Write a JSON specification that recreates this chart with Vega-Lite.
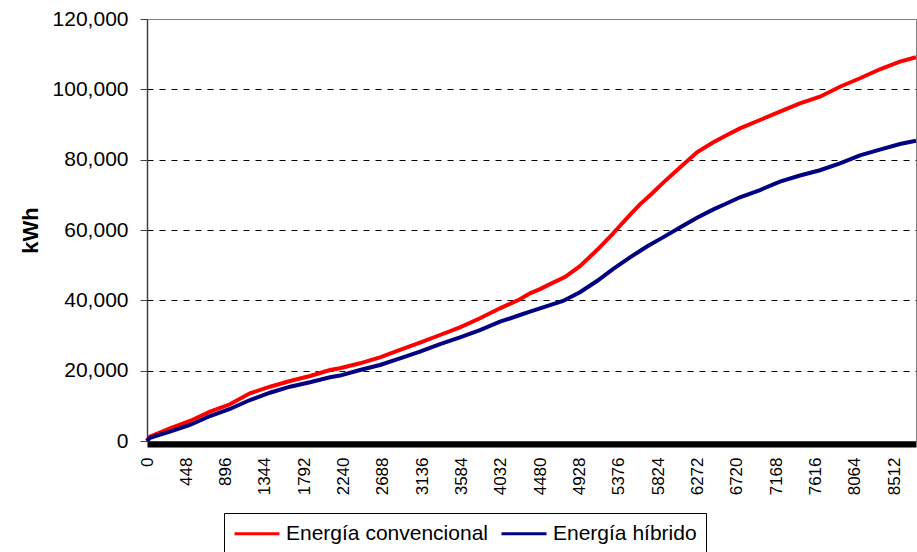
{
  "$schema": "https://vega.github.io/schema/vega-lite/v6.json",
  "width": 769,
  "height": 422,
  "autosize": {"type": "none"},
  "padding": {"left": 147, "top": 19, "right": 1, "bottom": 111},
  "background": "white",
  "config": {
    "font": "Liberation Sans",
    "view": {"stroke": "#808080", "strokeWidth": 1}
  },
  "data": {
    "values": [
      {"h": 0, "s": "Energía convencional", "v": 0},
      {"h": 34, "s": "Energía convencional", "v": 1220},
      {"h": 262, "s": "Energía convencional", "v": 3610},
      {"h": 490, "s": "Energía convencional", "v": 5690},
      {"h": 718, "s": "Energía convencional", "v": 8330},
      {"h": 945, "s": "Energía convencional", "v": 10440},
      {"h": 1173, "s": "Energía convencional", "v": 13560},
      {"h": 1401, "s": "Energía convencional", "v": 15440},
      {"h": 1629, "s": "Energía convencional", "v": 17060},
      {"h": 1857, "s": "Energía convencional", "v": 18480},
      {"h": 2085, "s": "Energía convencional", "v": 20190},
      {"h": 2198, "s": "Energía convencional", "v": 20700},
      {"h": 2426, "s": "Energía convencional", "v": 22090},
      {"h": 2654, "s": "Energía convencional", "v": 23800},
      {"h": 2882, "s": "Energía convencional", "v": 25880},
      {"h": 3110, "s": "Energía convencional", "v": 27950},
      {"h": 3338, "s": "Energía convencional", "v": 30140},
      {"h": 3565, "s": "Energía convencional", "v": 32330},
      {"h": 3793, "s": "Energía convencional", "v": 34890},
      {"h": 4021, "s": "Energía convencional", "v": 37730},
      {"h": 4249, "s": "Energía convencional", "v": 40290},
      {"h": 4363, "s": "Energía convencional", "v": 42000},
      {"h": 4477, "s": "Energía convencional", "v": 43200},
      {"h": 4591, "s": "Energía convencional", "v": 44600},
      {"h": 4760, "s": "Energía convencional", "v": 46600},
      {"h": 4932, "s": "Energía convencional", "v": 49700},
      {"h": 5126, "s": "Energía convencional", "v": 54300},
      {"h": 5308, "s": "Energía convencional", "v": 59000},
      {"h": 5388, "s": "Energía convencional", "v": 61200},
      {"h": 5502, "s": "Energía convencional", "v": 64300},
      {"h": 5616, "s": "Energía convencional", "v": 67300},
      {"h": 5750, "s": "Energía convencional", "v": 70300},
      {"h": 5878, "s": "Energía convencional", "v": 73400},
      {"h": 6071, "s": "Energía convencional", "v": 77800},
      {"h": 6265, "s": "Energía convencional", "v": 82100},
      {"h": 6447, "s": "Energía convencional", "v": 84900},
      {"h": 6607, "s": "Energía convencional", "v": 87000},
      {"h": 6755, "s": "Energía convencional", "v": 88900},
      {"h": 6983, "s": "Energía convencional", "v": 91280},
      {"h": 7210, "s": "Energía convencional", "v": 93640},
      {"h": 7438, "s": "Energía convencional", "v": 96030},
      {"h": 7666, "s": "Energía convencional", "v": 97910},
      {"h": 7894, "s": "Energía convencional", "v": 100750},
      {"h": 8122, "s": "Energía convencional", "v": 103140},
      {"h": 8349, "s": "Energía convencional", "v": 105700},
      {"h": 8577, "s": "Energía convencional", "v": 107860},
      {"h": 8760, "s": "Energía convencional", "v": 109110},
      {"h": 0, "s": "Energía híbrido", "v": 0},
      {"h": 34, "s": "Energía híbrido", "v": 900},
      {"h": 262, "s": "Energía híbrido", "v": 2640},
      {"h": 490, "s": "Energía híbrido", "v": 4550},
      {"h": 718, "s": "Energía híbrido", "v": 7110},
      {"h": 945, "s": "Energía híbrido", "v": 9100},
      {"h": 1173, "s": "Energía híbrido", "v": 11660},
      {"h": 1401, "s": "Energía híbrido", "v": 13730},
      {"h": 1629, "s": "Energía híbrido", "v": 15440},
      {"h": 1857, "s": "Energía híbrido", "v": 16690},
      {"h": 2085, "s": "Energía híbrido", "v": 18110},
      {"h": 2198, "s": "Energía híbrido", "v": 18600},
      {"h": 2426, "s": "Energía híbrido", "v": 20190},
      {"h": 2654, "s": "Energía híbrido", "v": 21610},
      {"h": 2882, "s": "Energía híbrido", "v": 23520},
      {"h": 3110, "s": "Energía híbrido", "v": 25390},
      {"h": 3338, "s": "Energía híbrido", "v": 27580},
      {"h": 3565, "s": "Energía híbrido", "v": 29490},
      {"h": 3793, "s": "Energía híbrido", "v": 31560},
      {"h": 4021, "s": "Energía híbrido", "v": 33920},
      {"h": 4249, "s": "Energía híbrido", "v": 35830},
      {"h": 4363, "s": "Energía híbrido", "v": 36770},
      {"h": 4477, "s": "Energía híbrido", "v": 37730},
      {"h": 4739, "s": "Energía híbrido", "v": 39810},
      {"h": 4932, "s": "Energía híbrido", "v": 42300},
      {"h": 5126, "s": "Energía híbrido", "v": 45500},
      {"h": 5308, "s": "Energía híbrido", "v": 48900},
      {"h": 5502, "s": "Energía híbrido", "v": 52200},
      {"h": 5695, "s": "Energía híbrido", "v": 55300},
      {"h": 5878, "s": "Energía híbrido", "v": 57900},
      {"h": 6071, "s": "Energía híbrido", "v": 60700},
      {"h": 6265, "s": "Energía híbrido", "v": 63500},
      {"h": 6447, "s": "Energía híbrido", "v": 65800},
      {"h": 6607, "s": "Energía híbrido", "v": 67600},
      {"h": 6755, "s": "Energía híbrido", "v": 69300},
      {"h": 6983, "s": "Energía híbrido", "v": 71370},
      {"h": 7210, "s": "Energía híbrido", "v": 73740},
      {"h": 7438, "s": "Energía híbrido", "v": 75500},
      {"h": 7666, "s": "Energía híbrido", "v": 77000},
      {"h": 7894, "s": "Energía híbrido", "v": 78970},
      {"h": 8122, "s": "Energía híbrido", "v": 81200},
      {"h": 8349, "s": "Energía híbrido", "v": 82850},
      {"h": 8577, "s": "Energía híbrido", "v": 84450},
      {"h": 8760, "s": "Energía híbrido", "v": 85400}
    ]
  },
  "mark": {"type": "line", "strokeWidth": 4, "interpolate": "linear"},
  "encoding": {
    "x": {
      "field": "h",
      "type": "quantitative",
      "scale": {"domain": [0, 8760], "nice": false, "zero": true},
      "axis": {
        "title": null,
        "values": [0, 448, 896, 1344, 1792, 2240, 2688, 3136, 3584, 4032, 4480, 4928, 5376, 5824, 6272, 6720, 7168, 7616, 8064, 8512],
        "format": "d",
        "grid": false,
        "ticks": false,
        "offset": 3,
        "domainColor": "#000000",
        "domainWidth": 6,
        "labelAngle": -90,
        "labelAlign": "right",
        "labelBaseline": "middle",
        "labelFontSize": 17,
        "labelColor": "#000000",
        "labelPadding": 13,
        "labelOverlap": false,
        "labelFlush": false
      }
    },
    "y": {
      "field": "v",
      "type": "quantitative",
      "scale": {"domain": [0, 120000], "nice": false},
      "axis": {
        "title": "kWh",
        "titleFontSize": 22,
        "titleFontWeight": "bold",
        "titleColor": "#000000",
        "titlePadding": 10,
        "values": [0, 20000, 40000, 60000, 80000, 100000, 120000],
        "format": ",d",
        "labelFontSize": 21,
        "labelColor": "#000000",
        "labelPadding": 12,
        "tickSize": 7,
        "tickColor": "#404040",
        "domainColor": "#404040",
        "domainWidth": 1.5,
        "grid": true,
        "gridDash": [6, 6],
        "gridColor": {"condition": {"test": "datum.value == 0 || datum.value == 120000", "value": "transparent"}, "value": "#000000"},
        "gridWidth": 1,
        "gridOpacity": 1,
        "labelFlush": false
      }
    },
    "color": {
      "field": "s",
      "type": "nominal",
      "scale": {"domain": ["Energía convencional", "Energía híbrido"], "range": ["#FF0000", "#000080"]},
      "legend": {
        "title": null,
        "orient": "none",
        "legendX": 77,
        "legendY": 494,
        "direction": "horizontal",
        "strokeColor": "#000000",
        "padding": 9,
        "symbolType": "M-1,0H3.5",
        "symbolSize": 400,
        "symbolStrokeWidth": 3,
        "labelFontSize": 21,
        "labelColor": "#000000",
        "labelOffset": 30,
        "columnPadding": 7,
        "labelLimit": 400
      }
    }
  }
}
